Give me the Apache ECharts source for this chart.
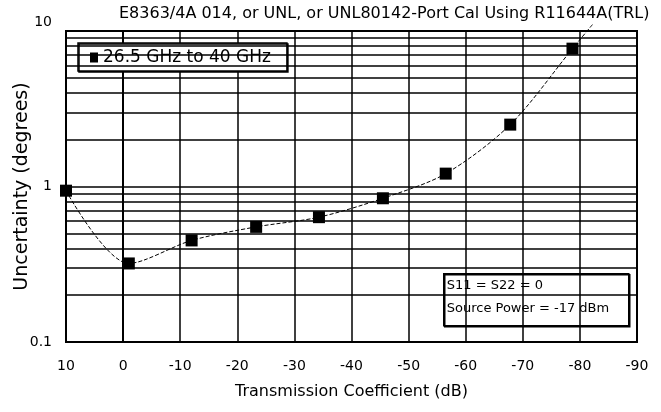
<!DOCTYPE html>
<html><head><meta charset="utf-8">
<script src="https://cdn.jsdelivr.net/npm/echarts@6/dist/echarts.min.js"></script>
<style>html,body{margin:0;padding:0;background:#fff}#c{width:661px;height:412px}</style>
</head><body><div id="c"></div>
<script>
const titleText = 'E8363/4A 014, or UNL, or UNL80142-Port Cal Using R11644A(TRL)';
const seriesName = '26.5 GHz to 40 GHz';
const xTickLabels = ['10','0','-10','-20','-30','-40','-50','-60','-70','-80','-90'];
const yTickLabels = ['0.1','1','10'];
const xValues = [10, -1, -12, -23.3, -34.3, -45.5, -56.5, -67.8, -78.7];
const yValues = [0.94, 0.32, 0.45, 0.55, 0.635, 0.84, 1.21, 2.5, 7.7];
const curveEnd = [-82.2, 11];
const minorGrid = [0.2,0.3,0.4,0.5,0.6,0.7,0.8,0.9,2,3,4,5,6,7,8,9];
const noteLines = ['S11 = S22 = 0', 'Source Power = -17 dBm'];

const FONT = '"DejaVu Sans",sans-serif';
const chart = echarts.init(document.getElementById('c'));
const pts = xValues.map((x,i)=>[x, yValues[i]]);
pts.push({value: curveEnd, symbol: 'none'});

chart.setOption({
  animation: false,
  backgroundColor: '#fff',
  textStyle: {fontFamily: FONT, color: '#000'},
  title: {text: titleText, left: 114, top: 1,
    textStyle: {fontFamily: FONT, fontSize: 16, fontWeight: 'normal', color: '#000'}},
  legend: {
    left: 78, top: 43, padding: [6, 16, 5, 12],
    data: [{name: seriesName, icon: 'rect'}],
    itemWidth: 8, itemHeight: 10, itemGap: 8,
    backgroundColor: '#fff', borderColor: '#000', borderWidth: 1.5,
    shadowColor: '#000', shadowOffsetX: 1, shadowOffsetY: 1, shadowBlur: 0,
    textStyle: {fontFamily: FONT, fontSize: 17, color: '#000'}
  },
  grid: {left: 66, right: 24, top: 31, bottom: 70, show: true,
    containLabel: false, outerBoundsMode: 'none',
    borderColor: '#000', borderWidth: 2, backgroundColor: 'transparent'},
  xAxis: {
    type: 'value', inverse: true, min: -90, max: 10, interval: 10,
    name: 'Transmission Coefficient (dB)', nameLocation: 'middle', nameGap: 42,
    nameTextStyle: {fontFamily: FONT, fontSize: 16, color: '#000'},
    axisLine: {show: true, lineStyle: {color: '#000', width: 2}},
    axisTick: {show: false},
    axisLabel: {fontFamily: FONT, fontSize: 14, color: '#000', margin: 17,
      formatter: v => xTickLabels[Math.round((10 - v) / 10)]},
    splitLine: {show: true, lineStyle: {color: '#000', width: 1.5}}
  },
  yAxis: {
    type: 'log', logBase: 10, min: 0.1, max: 10,
    name: 'Uncertainty (degrees)', nameLocation: 'middle', nameGap: 34,
    nameMoveOverlap: false,
    nameTextStyle: {fontFamily: FONT, fontSize: 19, color: '#000'},
    axisLine: {show: true, lineStyle: {color: '#000', width: 2}},
    axisTick: {show: false},
    axisLabel: {fontFamily: FONT, fontSize: 14, color: '#000', margin: 14,
      formatter: v => {
        const i = Math.round(Math.log10(v)) + 1;
        const t = yTickLabels[i];
        return i === 2 ? '{top|' + t + '}' : t;
      },
      rich: {top: {fontFamily: FONT, fontSize: 14, color: '#000', padding: [0,0,18,0]}}
    },
    splitLine: {show: true, lineStyle: {color: '#000', width: 1.5}}
  },
  series: [{
    name: seriesName, type: 'line', data: pts, smooth: 0.3, clip: false,
    symbol: 'rect', symbolSize: 12,
    itemStyle: {color: '#000'},
    lineStyle: {color: '#000', width: 1, type: [4, 2]},
    markLine: {silent: true, symbol: 'none', label: {show: false},
      lineStyle: {color: '#000', width: 1.5, type: 'solid'},
      data: minorGrid.map(v => ({yAxis: v}))},
    z: 5
  }],
  graphic: [{
    type: 'group', left: 443, top: 273,
    children: [
      {type: 'rect', shape: {x: 0, y: 0, width: 185, height: 52},
        style: {fill: '#fff', stroke: '#000', lineWidth: 1.5,
          shadowColor: '#000', shadowOffsetX: 1, shadowOffsetY: 1}},
      {type: 'text', x: 3, y: 5, style: {text: noteLines[0], font: '13px ' + FONT, fill: '#000'}},
      {type: 'text', x: 3, y: 28, style: {text: noteLines[1], font: '13px ' + FONT, fill: '#000'}}
    ]
  }]
});
</script></body></html>
